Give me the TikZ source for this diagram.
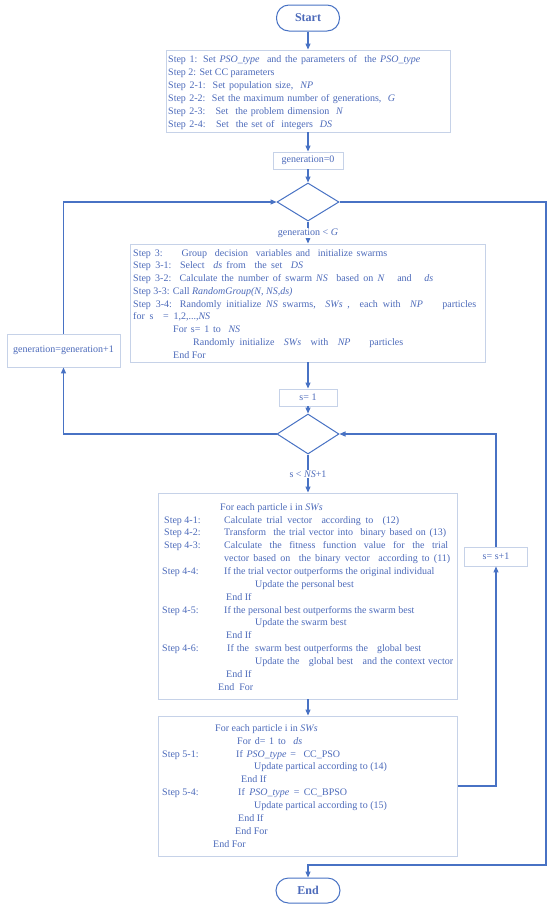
\documentclass[tikz,border=0pt]{standalone}
\usepackage{fontspec}
\setmainfont{Liberation Serif}
\usetikzlibrary{shapes.geometric,arrows.meta}
\definecolor{txt}{RGB}{76,106,186}
\definecolor{ln}{RGB}{72,114,196}
\definecolor{bx}{RGB}{198,210,232}
\newcommand{\Ln}[4]{\makebox[0pt][l]{\hspace*{#1pt}#2}\hspace*{#3pt}#4}
\newcommand{\Wd}[2]{\makebox[#1pt][s]{#2}}
\begin{document}
\begin{tikzpicture}[x=1pt,y=-1pt,
  box/.style={draw=bx,line width=0.9pt,rectangle,inner sep=0pt,fill=white,text=txt,font=\fontsize{10}{12}\selectfont},
  term/.style={draw=ln,line width=1pt,rectangle,rounded corners=12.5pt,inner sep=0pt,text=txt,font=\fontsize{12}{14}\selectfont\bfseries},
  dia/.style={diamond,draw=ln,line width=1pt,inner sep=0pt,aspect=1.6,minimum width=62pt,minimum height=38pt},
  arr/.style={draw=ln,line width=1.1pt,-{Triangle[length=6pt,width=5pt]}},
  txtn/.style={text=txt,inner sep=0pt,align=left,anchor=north west},
  lbl/.style={fill=white,text=txt,inner sep=1pt,font=\fontsize{10}{12}\selectfont},
]
\useasboundingbox[fill=white] (0,0) rectangle (550,908);

% terminals
\node[term,minimum width=63pt,minimum height=26pt] (start) at (308,18) {Start};
\node[term,minimum width=64pt,minimum height=25pt] (fin) at (308,890.5) {End};

% step 1 box
\node[box,minimum width=284pt,minimum height=82pt] (b1) at (308,91) {};
\node[txtn,font=\fontsize{10}{13}\selectfont] (t1) at (168,54) {\rule{0pt}{8pt}\Wd{252}{Step 1: Set \textit{PSO\_type}\ \ and the parameters of\ \ the\ \textit{PSO\_type}}\\
Step 2: Set CC parameters\\
\Wd{145}{Step 2-1:\ \ Set population size,\ \ \textit{NP}}\\
\Wd{227}{Step 2-2:\ \ Set the maximum number of generations,\ \ \textit{G}}\\
\Wd{175}{Step 2-3:\ \ \ Set\ \ the problem dimension\ \ \textit{N}}\\
\Wd{164}{Step 2-4:\ \ \ Set\ \ the set of\ \ integers\ \ \textit{DS}}};

\node[box,minimum width=70pt,minimum height=17pt] (g0) at (308,160.5) {generation=0};
\node[dia] (d1) at (308,202) {};

% step 3 box
\node[box,minimum width=355pt,minimum height=118pt] (b3) at (308,303) {};
\node[txtn,font=\fontsize{10}{12.75}\selectfont] (t3) at (133,248) {\rule{0pt}{8pt}\Wd{254}{Step 3:\ \ \ \ \ Group\ \ decision\ \ variables and\ \ initialize swarms}\\
\Wd{170}{Step 3-1:\ \ Select\ \ \textit{ds} from\ \ the set\ \ \textit{DS}}\\
\Wd{300}{Step 3-2:\ \ Calculate the number of swarm \textit{NS}\ \ based on \textit{N}\ \ \ and\ \ \ \textit{ds}}\\
Step 3-3: Call \textit{RandomGroup(N, NS,ds)}\\
\Wd{343}{Step 3-4: Randomly initialize \textit{NS} swarms,\ \ \textit{SWs}\ ,\ \ each with\ \ \textit{NP}\ \ \ \ particles}\\
\Wd{77}{for s\ \ = 1,2,...,\textit{NS}}\\
\hspace*{40pt}\Wd{67}{For s= 1 to\ \ \textit{NS}}\\
\hspace*{60pt}\Wd{210}{Randomly initialize\ \ \textit{SWs}\ \ with\ \ \textit{NP}\ \ \ \ particles}\\
\hspace*{40pt}End For};

\node[box,minimum width=58pt,minimum height=17pt] (sone) at (308,397.5) {s= 1};
\node[box,minimum width=113pt,minimum height=33pt] (g1) at (63.5,350.5) {generation=generation+1};
\node[dia,minimum height=40pt] (d2) at (308,434) {};

% step 4 box
\node[box,minimum width=299pt,minimum height=206pt] (b4) at (308,596) {};
\node[txtn,font=\fontsize{10}{12.86}\selectfont] (t4) at (160,502) {\rule{0pt}{8pt}\hspace*{60pt}For each particle i in \textit{SWs}\\
\Ln{4}{Step 4-1:}{64}{\Wd{175}{Calculate\ trial\ vector\ \ according to\ \ (12)}}\\
\Ln{4}{Step 4-2:}{64}{\Wd{222}{Transform\ \ the trial vector into\ \ binary based on (13)}}\\
\Ln{4}{Step 4-3:}{64}{\Wd{224}{Calculate the fitness function value for the trial}}\\
\hspace*{64pt}\Wd{226}{vector based on\ \ the\ binary vector\ \ according to (11)}\\
\Ln{2}{Step 4-4:}{64}{If the trial vector outperforms the original individual}\\
\hspace*{95pt}Update the personal best\\
\hspace*{66pt}End If\\
\Ln{2}{Step 4-5:}{64}{If the personal best outperforms the swarm best}\\
\hspace*{95pt}Update the swarm best\\
\hspace*{66pt}End If\\
\Ln{2}{Step 4-6:}{67}{\Wd{194}{If the\ \ swarm best outperforms the\ \ \ global best}}\\
\hspace*{95pt}\Wd{198}{Update the\ \ \ global best\ \ \ and the context vector}\\
\hspace*{66pt}End If\\
\hspace*{58pt}End\ \ For};

\node[box,minimum width=63pt,minimum height=19pt] (ss) at (496,556.5) {s= s+1};

% step 5 box
\node[box,minimum width=299pt,minimum height=140pt] (b5) at (308,786) {};
\node[txtn,font=\fontsize{10}{12.9}\selectfont] (t5) at (160,723) {\rule{0pt}{8pt}\hspace*{55pt}For each particle i in \textit{SWs}\\
\hspace*{77pt}\Wd{65}{For d= 1 to\ \ \textit{ds}}\\
\Ln{2}{Step 5-1:}{76}{\Wd{104}{If \textit{PSO\_type} =\ \ CC\_PSO}}\\
\hspace*{94pt}Update partical according to (14)\\
\hspace*{81pt}End If\\
\Ln{2}{Step 5-4:}{78}{\Wd{109}{If \textit{PSO\_type} = CC\_BPSO}}\\
\hspace*{94pt}Update partical according to (15)\\
\hspace*{78pt}End If\\
\hspace*{75pt}End For\\
\hspace*{53pt}End For};

% connectors
\draw[arr] (start) -- (b1);
\draw[arr] (b1) -- (g0);
\draw[arr] (g0) -- (d1);
\draw[arr] (d1) -- (b3);
\node[lbl] (lg) at (308,233) {generation < \textit{G}};
\draw[arr] (b3) -- (sone);
\draw[arr] (sone) -- (d2);
\draw[arr] (d2) -- (b4);
\node[lbl] (ls) at (308,474) {s < \textit{NS}+1};
\draw[arr] (b4) -- (b5);
\draw[arr] (b5.east) -| (ss.south);
\draw[arr] (ss.north) |- (d2.east);
\draw[arr] (d2.west) -| (g1.south);
\draw[arr] (g1.north) |- (d1.west);
\coordinate (rc) at (546,865);
\draw[arr] (d1.east) -| (rc) -| (fin.north);
\end{tikzpicture}
\end{document}
